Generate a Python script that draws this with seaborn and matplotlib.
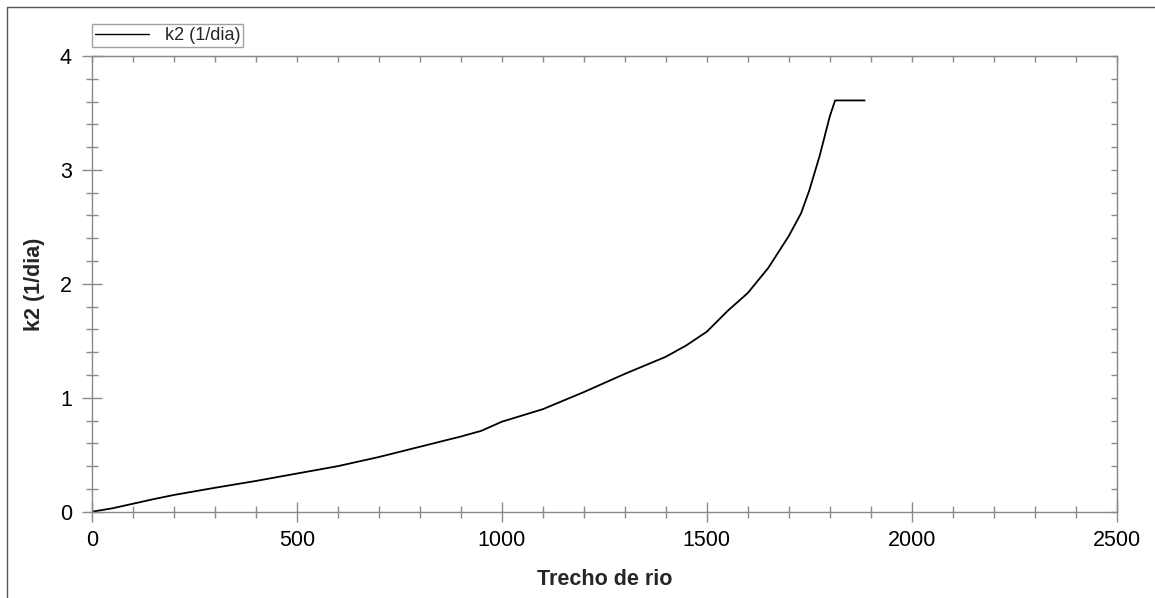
import matplotlib
matplotlib.use("Agg")
import matplotlib.pyplot as plt
import seaborn as sns
import pandas as pd
from matplotlib.ticker import MultipleLocator
from matplotlib.lines import Line2D

# Data
trecho = [0, 50, 100, 150, 200, 300, 400, 500, 600, 700, 800, 900, 950, 1000, 1100,
          1200, 1300, 1400, 1450, 1500, 1550, 1600, 1650, 1700, 1730, 1750, 1775,
          1790, 1800, 1813, 1885]
k2 = [0.0, 0.03, 0.07, 0.11, 0.147, 0.21, 0.27, 0.335, 0.40, 0.48, 0.57, 0.66, 0.71,
      0.79, 0.90, 1.05, 1.21, 1.36, 1.46, 1.58, 1.76, 1.92, 2.14, 2.42, 2.62, 2.82,
      3.12, 3.33, 3.47, 3.61, 3.61]
series_name = "k2 (1/dia)"
x_label = "Trecho de rio"
y_label = "k2 (1/dia)"

df = pd.DataFrame({"x": trecho, "y": k2, "serie": series_name})

sns.set_style("white")
plt.rcParams["font.family"] = ["Liberation Sans", "DejaVu Sans"]

fig = plt.figure(figsize=(11.55, 5.98), dpi=100)
ax = fig.add_axes([92 / 1155, 1 - 511.7 / 598, (1116.7 - 92) / 1155, (511.7 - 56) / 598])

sns.lineplot(data=df, x="x", y="y", hue="serie", palette=["black"], ax=ax,
             linewidth=1.3, estimator=None, sort=False)

ax.set_xlim(0, 2500)
ax.set_ylim(0, 4)
ax.xaxis.set_major_locator(MultipleLocator(500))
ax.xaxis.set_minor_locator(MultipleLocator(100))
ax.yaxis.set_major_locator(MultipleLocator(1))
ax.yaxis.set_minor_locator(MultipleLocator(0.2))

spine_color = "#8a8a8a"
for s in ax.spines.values():
    s.set_color(spine_color)
    s.set_linewidth(1.0)

ax.tick_params(axis="both", which="both", bottom=True, left=True, top=False, right=False)
ax.tick_params(axis="both", which="major", direction="inout", length=14, width=1,
               color=spine_color, labelsize=15.5, labelcolor="black")
ax.tick_params(axis="x", which="major", pad=6.5)
ax.tick_params(axis="y", which="major", pad=7.5)
ax.tick_params(axis="both", which="minor", direction="inout", length=8, width=1,
               color=spine_color)

axt = ax.secondary_xaxis("top")
axt.xaxis.set_major_locator(MultipleLocator(100))
axt.tick_params(direction="in", length=4, width=1, color=spine_color, labeltop=False,
                top=True)
axt.spines["top"].set_color(spine_color)
axr = ax.secondary_yaxis("right")
axr.yaxis.set_major_locator(MultipleLocator(0.2))
axr.tick_params(direction="in", length=4, width=1, color=spine_color, labelright=False,
                right=True)
axr.spines["right"].set_color(spine_color)

ax.set_xlabel(x_label, fontsize=15.5, fontweight="bold", labelpad=12.5)
ax.set_ylabel(y_label, fontsize=15.5, fontweight="bold", labelpad=10.5)

leg = ax.legend(loc="lower left", bbox_to_anchor=(0.0, 1.02), frameon=True,
                fancybox=False, fontsize=13, handlelength=3.0, borderpad=0.15,
                handletextpad=0.9, borderaxespad=0)
leg.get_frame().set_edgecolor("#8a8a8a")
leg.get_frame().set_linewidth(1.0)
for line in leg.get_lines():
    line.set_linewidth(1.0)

# outer frame lines (left and top)
fig.add_artist(Line2D([6.7 / 1155, 6.7 / 1155], [0, 1 - 7.3 / 598], color="#555555",
                      linewidth=1.0, transform=fig.transFigure))
fig.add_artist(Line2D([6.7 / 1155, 1], [1 - 7.3 / 598, 1 - 7.3 / 598], color="#555555",
                      linewidth=1.0, transform=fig.transFigure))

fig.savefig("out.png", dpi=100)
